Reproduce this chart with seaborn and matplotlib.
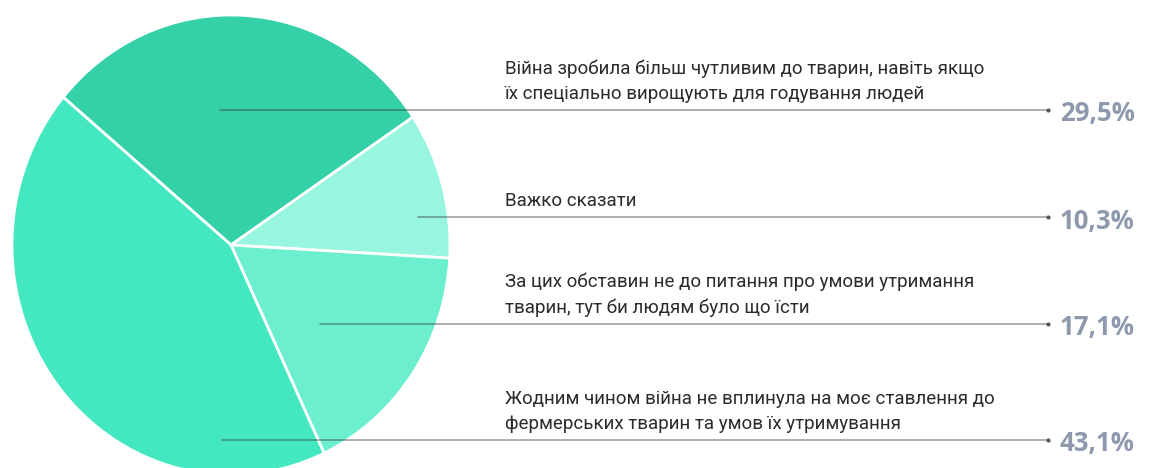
import matplotlib
matplotlib.use("Agg")
import matplotlib.pyplot as plt
import seaborn as sns

# ---- data ----
labels = [
    "Війна зробила більш чутливим до тварин, навіть якщо\nїх спеціально вирощують для годування людей",
    "Важко сказати",
    "За цих обставин не до питання про умови утримання\nтварин, тут би людям було що їсти",
    "Жодним чином війна не вплинула на моє ставлення до\nфермерських тварин та умов їх утримування",
]
values = [29.5, 10.3, 17.1, 43.1]
value_labels = ["29,5%", "10,3%", "17,1%", "43,1%"]
colors = ["#34D1A9", "#98F5E0", "#6BEFCE", "#43E8C0"]

# annotation layout (pixels, image coords from top)
line_y = [110, 217, 324, 440]
line_x0 = [220, 418, 320, 222]

sns.set_theme(style="white")
plt.rcParams["font.family"] = ["Roboto", "DejaVu Sans"]

W, H = 1151, 468
fig = plt.figure(figsize=(W / 100, H / 100), dpi=100)
fig.patch.set_facecolor("white")

# pie axes (slightly stretched vertically like the original)
pax = fig.add_axes([12 / W, -7 / H, 438 / W, 460 / H])
pax.pie(values, colors=colors, startangle=140, counterclock=False,
        radius=1, wedgeprops=dict(edgecolor="white", linewidth=2))
pax.set_aspect("auto")
pax.set_xlim(-1, 1)
pax.set_ylim(-1, 1)
pax.axis("off")

# overlay axes in pixel coords
ax = fig.add_axes([0, 0, 1, 1])
ax.set_xlim(0, W)
ax.set_ylim(H, 0)
ax.axis("off")
ax.patch.set_alpha(0)

for lab, vl, y, x0 in zip(labels, value_labels, line_y, line_x0):
    ax.plot([x0, 1048], [y, y], color="#333333", alpha=0.5, lw=1.1)
    ax.plot([1048], [y], "o", color="#555555", ms=2)
    ax.text(505, y - 7, lab, fontsize=13.5, color="#2b2b2b", ha="left",
            va="bottom", linespacing=1.5)
    ax.text(1060, y + 4, vl, fontsize=18.5, fontweight="bold", color="#8E99AD",
            ha="left", va="center", family=["Open Sans", "DejaVu Sans"])

fig.savefig("out.png", dpi=100, facecolor="white")
